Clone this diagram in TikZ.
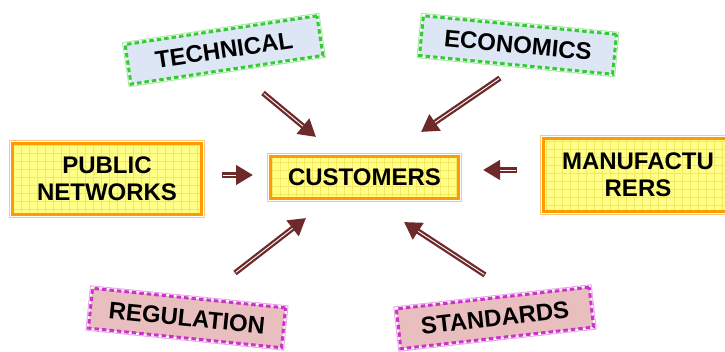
\documentclass[tikz,border=0pt]{standalone}
\usepackage{fontspec}
\setmainfont{Liberation Sans}
\usetikzlibrary{arrows.meta}

\definecolor{boxyellow}{HTML}{FFFF88}
\definecolor{gridyellow}{HTML}{F4E860}
\definecolor{frameorange}{HTML}{FF9A00}
\definecolor{rimorange}{HTML}{FFC878}
\definecolor{paleblue}{HTML}{DCE6F4}
\definecolor{dashgreen}{HTML}{33CC33}
\definecolor{palepink}{HTML}{E8BEBE}
\definecolor{dashmagenta}{HTML}{CC33CC}
\definecolor{arrowred}{HTML}{6E2A2A}

\tikzset{
  label text/.style={font=\bfseries\fontsize{24}{27}\selectfont, align=center, text=black},
  yellowbox/.style={label text, inner sep=0pt,
    preaction={draw=rimorange, line width=7.5pt},
    preaction={draw=white, line width=5.5pt},
    fill=boxyellow, draw=frameorange, line width=3.5pt,
    path picture={\draw[gridyellow, line width=0.5pt, step=8pt]
      (path picture bounding box.south west) grid (path picture bounding box.north east);}},
  tagbox/.style={label text, inner sep=0pt, minimum width=194pt, minimum height=40pt,
    preaction={draw=#1!45!white, solid, line width=5.5pt},
    preaction={draw=white, solid, line width=3.6pt},
    draw=#1, line width=3pt, dash pattern=on 4.5pt off 3pt},
  greentag/.style={tagbox=dashgreen, fill=paleblue},
  pinktag/.style={tagbox=dashmagenta, fill=palepink},
  flowarrow/.style={arrowred, line width=5.5pt, -{Triangle[length=17pt,width=19pt]}},
  flowcore/.style={white, line width=0.9pt, shorten >=17pt, shorten <=1pt}
}

\begin{document}
\begin{tikzpicture}[x=1pt, y=-1pt]
  \useasboundingbox (0,0) rectangle (725,352);
  \clip (0,0) rectangle (725,352);

  % central box and the two side boxes
  \node[yellowbox, minimum width=188pt, minimum height=42pt] (cust) at (364.5,177.5) {CUSTOMERS};
  \node[yellowbox, minimum width=189pt, minimum height=71pt] (pub) at (107,179) {PUBLIC\\NETWORKS};
  \node[yellowbox, minimum width=189pt, minimum height=73pt] (manu) at (638,175) {MANUFACTU\\RERS};

  % tilted tags
  \node[greentag, rotate=8.5] (tech) at (224,50) {TECHNICAL};
  \node[greentag, rotate=-5.5] (econ) at (518,45) {ECONOMICS};
  \node[pinktag, rotate=-5.8] (regu) at (187,318) {REGULATION};
  \node[pinktag, rotate=6.4] (stan) at (495,318) {STANDARDS};

  % arrow ends
  \coordinate (techA) at (263,93);  \coordinate (techB) at (316,137);
  \coordinate (econA) at (500,78);  \coordinate (econB) at (421,132);
  \coordinate (pubA)  at (222,175); \coordinate (pubB)  at (253,175);
  \coordinate (manuA) at (517,170); \coordinate (manuB) at (483,170);
  \coordinate (reguA) at (235,273); \coordinate (reguB) at (306,218);
  \coordinate (stanA) at (485,275); \coordinate (stanB) at (404,222);

  % double-line arrows pointing to the customers
  \foreach \a in {tech,econ,pub,manu,regu,stan}{
    \draw[flowarrow] (\a A) -- (\a B);
    \draw[flowcore] (\a A) -- (\a B);
  }
\end{tikzpicture}
\end{document}
